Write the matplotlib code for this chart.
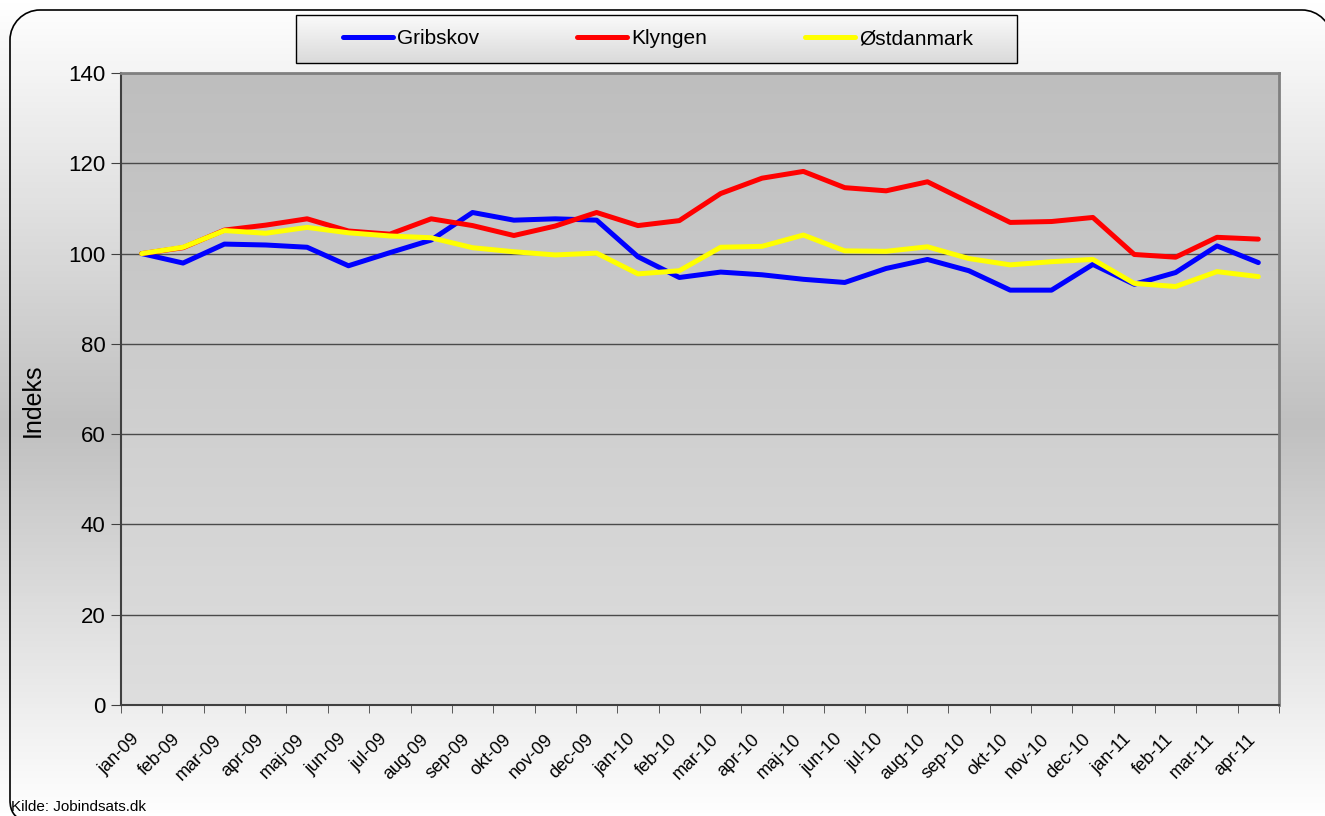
import numpy as np
import matplotlib.pyplot as plt
from matplotlib.colors import LinearSegmentedColormap
from matplotlib.path import Path
from matplotlib.patches import PathPatch
from matplotlib.transforms import ScaledTranslation

months = ["jan-09", "feb-09", "mar-09", "apr-09", "maj-09", "jun-09", "jul-09",
          "aug-09", "sep-09", "okt-09", "nov-09", "dec-09", "jan-10", "feb-10",
          "mar-10", "apr-10", "maj-10", "jun-10", "jul-10", "aug-10", "sep-10",
          "okt-10", "nov-10", "dec-10", "jan-11", "feb-11", "mar-11", "apr-11"]
gribskov = [100.0, 97.9, 102.1, 101.9, 101.4, 97.3, 100.2, 103.0, 109.1, 107.4,
            107.7, 107.4, 99.3, 94.7, 95.9, 95.3, 94.3, 93.6, 96.7, 98.7,
            96.2, 91.9, 91.9, 97.6, 93.2, 95.8, 101.7, 98.0]
klyngen = [100.0, 101.3, 105.2, 106.3, 107.7, 105.0, 104.3, 107.7, 106.2, 104.0,
           106.1, 109.1, 106.2, 107.3, 113.3, 116.7, 118.2, 114.6, 113.9, 115.9,
           111.4, 106.9, 107.1, 108.0, 99.8, 99.2, 103.6, 103.2]
oestdanmark = [100.0, 101.4, 105.1, 104.5, 105.8, 104.6, 103.9, 103.5, 101.3, 100.4,
               99.7, 100.1, 95.5, 96.2, 101.4, 101.6, 104.1, 100.6, 100.5, 101.5,
               98.9, 97.5, 98.2, 98.7, 93.4, 92.7, 96.0, 94.9]
series = [("Gribskov", gribskov, "#0000ff"),
          ("Klyngen", klyngen, "#ff0000"),
          ("Østdanmark", oestdanmark, "#ffff00")]

W, H = 1325, 816
plt.rcParams['font.family'] = ['Liberation Sans', 'DejaVu Sans']


def fx(px):
    return px / W


def fy(py):
    return 1 - py / H


def vgrad(*stops):
    return LinearSegmentedColormap.from_list("g", list(stops))


fig = plt.figure(figsize=(W / 100, H / 100), dpi=100)

# background in pixel coordinates (y down)
bg = fig.add_axes([0, 0, 1, 1], zorder=-5)
ramp = np.linspace(0, 1, 256).reshape(-1, 1)
bg.imshow(ramp, cmap=vgrad((0, "#ffffff"), (0.52, "#c0c0c0"), (1, "#ffffff")),
          aspect='auto', extent=(0, W, H, 0), origin='upper')

# outer frame: left edge, top edge and rounded corners (open at right/bottom)
k = 0.55 * 30
C4 = Path.CURVE4
frame = Path([(22, 820), (15, 817), (10, 812), (10, 800), (10, 40),
              (10, 40 - k), (40 - k, 10), (40, 10), (1302, 10),
              (1302 + k, 10), (1332, 40 - k), (1332, 40)],
             [Path.MOVETO, C4, C4, C4, Path.LINETO,
              C4, C4, C4, Path.LINETO, C4, C4, C4])
bg.add_patch(PathPatch(frame, facecolor='none', edgecolor='black', lw=1.2))

# legend box with light gradient
bg.imshow(ramp, cmap=vgrad((0, "#fafafa"), (1, "#dadada")), aspect='auto',
          extent=(296, 1017, 63, 15), origin='upper')
bg.add_patch(plt.Rectangle((296, 15), 721, 48, facecolor='none',
                           edgecolor='black', lw=1.0))
bg.set_xlim(0, W)
bg.set_ylim(H, 0)
bg.axis('off')

ax = fig.add_axes([fx(121), fy(705), fx(1279) - fx(121), fy(73) - fy(705)])
ax.imshow(ramp, cmap=vgrad((0, "#bebebe"), (1, "#dedede")), aspect='auto',
          extent=[0, 1, 0, 1], transform=ax.transAxes, origin='upper', zorder=0)

x = np.arange(len(months))
for name, vals, col in series:
    ax.plot(x, vals, color=col, lw=3.6, label=name, zorder=3,
            solid_capstyle='round', solid_joinstyle='round')

ax.set_xlim(-0.5, len(months) - 0.5)
ax.set_ylim(0, 140)
ax.set_yticks(range(0, 141, 20))
ax.grid(axis='y', color='#4a4a4a', lw=1.0, zorder=1)
ax.tick_params(axis='y', labelsize=16, length=7, color='#404040', pad=4)

ax.set_xticks(x)
ax.set_xticklabels(months, rotation=45, ha='right', va='center',
                   rotation_mode='anchor', fontsize=13)
ax.tick_params(axis='x', which='major', length=0, pad=23)
shift = ScaledTranslation(-5 / 100, 0, fig.dpi_scale_trans)
for lab in ax.get_xticklabels():
    lab.set_transform(lab.get_transform() + shift)
ax.set_xticks(np.arange(-0.5, len(months)), minor=True)
ax.tick_params(axis='x', which='minor', length=6, color='#404040')

for s in ['left', 'bottom']:
    ax.spines[s].set_color('#404040')
    ax.spines[s].set_linewidth(1.5)
for s in ['right', 'top']:
    ax.spines[s].set_color('#808080')
    ax.spines[s].set_linewidth(2)

ax.set_ylabel("Indeks", fontsize=18)
ax.yaxis.set_label_coords((45 - 121) / 1158, (705 - 400) / 632)

fig.legend(loc='center left', ncol=3, frameon=False, fontsize=15,
           bbox_to_anchor=(fx(343), fy(39)), handlelength=2.4,
           handletextpad=0.2, columnspacing=4.7, borderaxespad=0, borderpad=0)

fig.text(fx(11), fy(811), "Kilde: Jobindsats.dk", fontsize=11,
         va='baseline', ha='left')

plt.savefig('out.png', dpi=100)
